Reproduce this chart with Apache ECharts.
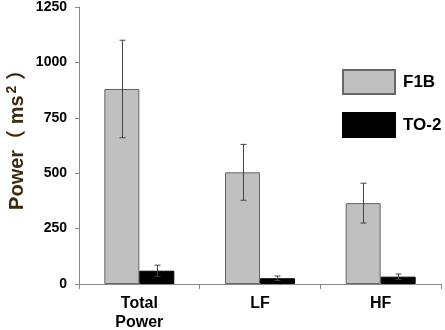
<!DOCTYPE html>
<html>
<head>
<meta charset="utf-8">
<script src="https://cdn.jsdelivr.net/npm/echarts@6/dist/echarts.min.js"></script>
<style>html,body{margin:0;padding:0;background:#fff}#c{width:445px;height:330px}</style>
</head>
<body>
<div id="c"></div>
<script>
var categories = ['Total\nPower', 'LF', 'HF'];
var seriesNames = ['F1B', 'TO-2'];
var f1b = [880, 504, 365];
var f1bErr = [220, 126, 90];
var to2 = [60, 26, 33];
var to2Err = [25, 10, 12];
var yTicks = [0, 250, 500, 750, 1000, 1250];

var chart = echarts.init(document.getElementById('c'));
var BAR_FRAC = 0.29;

function errData(vals, errs) {
  return vals.map(function (v, i) { return [i, v - errs[i], v + errs[i]]; });
}
function errRender(side) {
  return function (params, api) {
    var x = api.value(0);
    var lo = api.coord([x, api.value(1)]);
    var hi = api.coord([x, api.value(2)]);
    var band = api.size([1, 0])[0];
    var off = side * band * BAR_FRAC / 2;
    var cx = Math.round(lo[0] + off) + 0.5;
    var cap = 3;
    var st = { stroke: '#444', lineWidth: 1 };
    return {
      type: 'group',
      children: [
        { type: 'line', shape: { x1: cx, y1: lo[1], x2: cx, y2: hi[1] }, style: st },
        { type: 'line', shape: { x1: cx - cap, y1: lo[1], x2: cx + cap, y2: lo[1] }, style: st },
        { type: 'line', shape: { x1: cx - cap, y1: hi[1], x2: cx + cap, y2: hi[1] }, style: st }
      ]
    };
  };
}

chart.setOption({
  animation: false,
  grid: { left: 79, right: 4, top: 7, bottom: 46, containLabel: false, outerBoundsMode: 'none' },
  legend: {
    orient: 'vertical', left: 342, top: 69, padding: 0, itemWidth: 52, itemHeight: 24, itemGap: 17,
    icon: 'rect', data: seriesNames,
    textStyle: { fontFamily: 'Liberation Sans', fontWeight: 'bold', fontSize: 17, color: '#000', padding: [0, 0, 0, 3] }
  },
  xAxis: {
    type: 'category', data: categories,
    axisLine: { lineStyle: { color: '#888' } },
    axisTick: { show: true, length: 5, lineStyle: { color: '#888' } },
    axisLabel: { fontFamily: 'Liberation Sans', fontWeight: 'bold', fontSize: 16, color: '#000', margin: 10, lineHeight: 19, interval: 0 }
  },
  yAxis: {
    type: 'value', min: 0, max: 1250, interval: 250,
    splitLine: { show: false },
    axisLine: { show: true, lineStyle: { color: '#888' } },
    axisTick: { show: true, length: 4, lineStyle: { color: '#888' } },
    axisLabel: { fontFamily: 'Liberation Sans', fontWeight: 'bold', fontSize: 14, color: '#000', margin: 12,
      formatter: function (v) { return yTicks.indexOf(v) >= 0 ? String(v) : ''; } }
  },
  graphic: [{
    type: 'text', x: 17, y: 135, rotation: Math.PI / 2, z: 10,
    style: {
      text: 'Power（ ms{s|2} ）', textAlign: 'center', textVerticalAlign: 'middle',
      fontFamily: 'Liberation Sans, Noto Sans CJK SC', fontWeight: 'bold', fontSize: 20, fill: '#3e2a0e',
      rich: { s: { fontSize: 14, fontWeight: 'bold', fontFamily: 'Liberation Sans', fill: '#3e2a0e', verticalAlign: 'top', padding: [0, 0, 10, 2] } }
    }
  }],
  series: [
    { name: 'F1B', type: 'bar', data: f1b, barWidth: (BAR_FRAC * 100) + '%', barGap: '0%',
      itemStyle: { color: '#c0c0c0', borderColor: '#666', borderWidth: 1 } },
    { name: 'TO-2', type: 'bar', data: to2, barWidth: (BAR_FRAC * 100) + '%', barGap: '0%',
      itemStyle: { color: '#000', borderColor: '#000', borderWidth: 1 } },
    { type: 'custom', renderItem: errRender(-1), data: errData(f1b, f1bErr), z: 5, encode: { x: 0, y: [1, 2] } },
    { type: 'custom', renderItem: errRender(1), data: errData(to2, to2Err), z: 5, encode: { x: 0, y: [1, 2] } }
  ]
});
</script>
</body>
</html>
